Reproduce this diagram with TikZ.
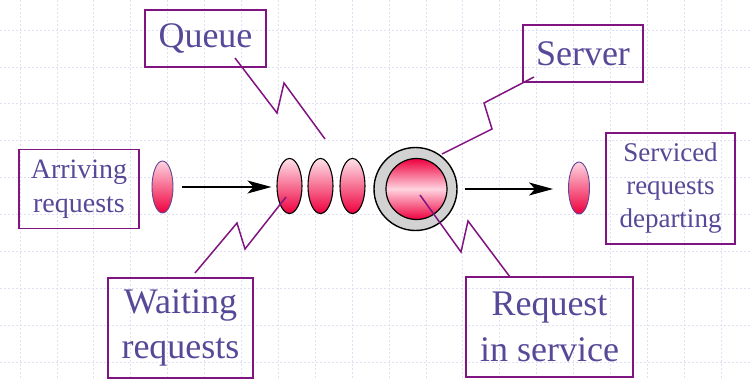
\documentclass[tikz,border=0pt]{standalone}
\usepackage{fontspec}
\setmainfont{Liberation Serif}
\usetikzlibrary{arrows.meta,shapes.geometric}
\definecolor{txt}{RGB}{88,72,152}
\definecolor{boxc}{RGB}{128,20,128}
\definecolor{gridc}{RGB}{224,224,245}
\definecolor{pinkl}{RGB}{255,212,224}
\definecolor{redd}{RGB}{238,0,62}
\definecolor{grayf}{RGB}{210,210,210}
\definecolor{ellc}{RGB}{100,70,150}
\begin{document}
\begin{tikzpicture}[x=1pt,y=-1pt,
  labelbox/.style={draw=boxc, line width=1.5pt, inner sep=0pt, text=txt, align=center},
  callout/.style={draw=boxc, line width=1.5pt, line join=miter},
  reqsmall/.style={ellipse, draw=ellc, line width=0.9pt, inner sep=0pt,
     minimum width=21pt, minimum height=52pt, top color=pinkl, bottom color=redd},
  reqq/.style={ellipse, draw=black, line width=1.1pt, inner sep=0pt,
     minimum width=25pt, minimum height=55pt, top color=pinkl!70!white, bottom color=redd},
  flow/.style={line width=1.4pt, -{Stealth[length=24pt,width=13pt,inset=6pt]}},
  gridline/.style={draw=gridc, line width=0.7pt, dash pattern=on 2pt off 2pt}]
\useasboundingbox (0,0) rectangle (750,380);
\fill[white] (0,0) rectangle (750,380);
% grid
\foreach \i in {0,...,19} {
  \draw[gridline] ({20+36.9*\i},0) -- ({20+36.9*\i},380);
}
\foreach \j in {0,...,9} {
  \draw[gridline] (0,{30+36.9*\j}) -- (750,{30+36.9*\j});
}
% text boxes
\node[labelbox, minimum width=121pt, minimum height=57pt, font=\fontsize{36}{43}\selectfont] (queue) at (205.5,38.5) {Queue};
\node[labelbox, minimum width=120pt, minimum height=57pt, font=\fontsize{36}{43}\selectfont] (server) at (583,53.5) {Server};
\node[labelbox, minimum width=120pt, minimum height=79pt, font=\fontsize{28}{34}\selectfont] (arriving) at (79,189) {Arriving\\requests};
\node[labelbox, minimum width=129pt, minimum height=111pt, font=\fontsize{27}{33}\selectfont] (serviced) at (670.5,188.5) {Serviced\\requests\\departing};
\node[labelbox, minimum width=145pt, minimum height=100pt, font=\fontsize{36}{45}\selectfont] (waiting) at (180.5,328) {Waiting\\requests};
\node[labelbox, minimum width=167pt, minimum height=100pt, font=\fontsize{36}{46}\selectfont] (inservice) at (549.5,327) {Request\\in service};
% requests
\node[reqsmall] (arr) at (162.5,187) {};
\node[reqq] (q1) at (289.5,186) {};
\node[reqq] (q2) at (320.5,186) {};
\node[reqq] (q3) at (352.5,186) {};
\node[circle, draw=black, line width=1.4pt, fill=grayf, minimum size=83pt, inner sep=0pt] (srvout) at (415.5,189) {};
\node[circle, draw=black, line width=1.2pt, inner sep=0pt, minimum size=61pt,
  top color=redd, bottom color=redd, middle color=pinkl] (srvin) at (416.5,189) {};
\node[reqsmall] (dep) at (579,188) {};
% flow arrows
\draw[flow, shorten <=9pt, shorten >=5pt] (arr.east) -- (arr.east -| q1.west);
\draw[flow, shorten <=7pt, shorten >=15pt] (srvout.east) -- (srvout.east -| dep.west);
% callouts
\coordinate (qa) at (235,58);
\coordinate (qb) at (277,113);
\coordinate (qc) at (284,83);
\coordinate (qd) at (325,139);
\draw[callout] (qa) -- (qb) -- (qc) -- (qd);
\coordinate (sa) at (534,77);
\coordinate (sb) at (484,103);
\coordinate (sc) at (492,129);
\coordinate (sd) at (442,154);
\draw[callout] (sa) -- (sb) -- (sc) -- (sd);
\coordinate (wa) at (195,273);
\coordinate (wb) at (237,223);
\coordinate (wc) at (245,249);
\coordinate (wd) at (286,197);
\draw[callout] (wa) -- (wb) -- (wc) -- (wd);
\coordinate (ra) at (510,277);
\coordinate (rb) at (468,221);
\coordinate (rc) at (461,252);
\coordinate (rd) at (420,195);
\draw[callout] (ra) -- (rb) -- (rc) -- (rd);
\end{tikzpicture}
\end{document}
